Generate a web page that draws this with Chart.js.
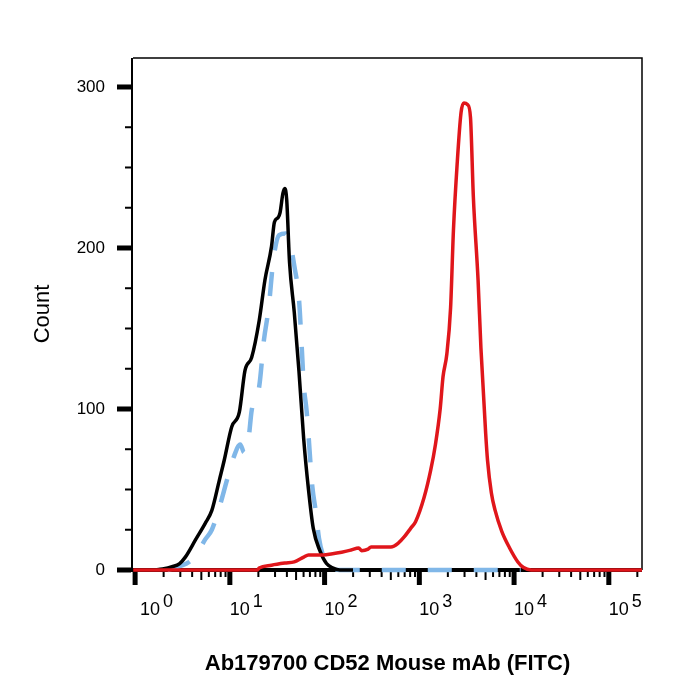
<!DOCTYPE html>
<html>
<head>
<meta charset="utf-8">
<script src="https://cdn.jsdelivr.net/npm/chart.js@4.4.0/dist/chart.umd.min.js"></script>
<style>
  html, body { margin: 0; padding: 0; background: #fff; }
</style>
</head>
<body>
<canvas id="histograma" width="700" height="700"></canvas>
<script>
// intensidade em log10 (posicao no eixo) e contagem
const redLogX = [-0.02, 1.29, 1.31, 1.44, 1.58, 1.68, 1.78, 1.83, 1.94, 2.07, 2.18, 2.28, 2.36, 2.39, 2.46, 2.49,
  2.70, 2.78, 2.84, 2.91, 2.96, 3.05, 3.12, 3.17, 3.22, 3.25, 3.29, 3.33, 3.36, 3.40, 3.44, 3.47, 3.51, 3.54,
  3.57, 3.62, 3.65, 3.70, 3.72, 3.76, 3.80, 3.87, 3.95, 4.04, 4.10, 4.18, 5.35];
const redCount = [0, 0, 1.2, 3, 4.3, 5, 8, 9.3, 9.3, 10, 11, 12.4, 13.7, 12, 13, 14.3,
  14.3, 16.8, 20.5, 26, 30, 45, 62, 78, 100, 120, 134, 163, 211, 253, 284, 290, 289, 281,
  232, 180, 138, 85, 68, 48, 37, 24, 14, 5, 1.5, 0, 0];

const blackLogX = [0.20, 0.29, 0.39, 0.47, 0.53, 0.64, 0.74, 0.81, 0.89, 0.94, 1.02, 1.10, 1.16, 1.23, 1.31, 1.37,
  1.44, 1.47, 1.51, 1.53, 1.56, 1.58, 1.60, 1.63, 1.68, 1.73, 1.78, 1.83, 1.88, 1.95, 2.02, 2.09, 2.16, 2.30];
const blackCount = [0, 0.6, 2, 4, 8, 19, 29, 37, 56, 68, 89, 98, 124, 132, 155, 180,
  201, 216, 219, 222, 234, 237, 230, 191, 160, 123, 81, 50, 26, 12, 4, 1.2, 0, 0];

const blueLogX = [0.34, 0.48, 0.57, 0.64, 0.74, 0.81, 0.89, 0.97, 1.04, 1.11, 1.15, 1.20, 1.23, 1.31, 1.36, 1.41,
  1.46, 1.52, 1.59, 1.65, 1.68, 1.73, 1.76, 1.78, 1.81, 1.83, 1.85, 1.87, 1.91, 1.94, 1.99, 2.04, 2.10, 2.16, 4.07];
const blueCount = [0, 2.5, 5, 9, 19, 25, 39, 56, 70, 78, 73, 83, 99, 114, 143, 163,
  193, 208, 209, 199, 189, 168, 137, 115, 99, 84, 67, 52, 35, 20, 8, 3, 0.6, 0, 0];

const yTicks = [0, 100, 200, 300];
const decadas = [0, 1, 2, 3, 4, 5];

const fonte = '"Liberation Sans", Arial, sans-serif';

function pontos(logX, contagem) {
  return logX.map((v, i) => ({ x: 10 ** v, y: contagem[i] }));
}

// eixos no estilo citometria: caixa, ticks grossos e rotulos 10^n
const eixosPlugin = {
  id: 'eixosCitometria',
  beforeDatasetsDraw(chart) {
    const { ctx, chartArea: a, scales: { x, y } } = chart;
    ctx.save();
    ctx.fillStyle = '#000';
    ctx.strokeStyle = '#000';

    ctx.lineWidth = 1.5;
    ctx.beginPath();
    ctx.moveTo(a.left, a.top);
    ctx.lineTo(a.right, a.top);
    ctx.lineTo(a.right, a.bottom);
    ctx.stroke();

    ctx.lineWidth = 2;
    ctx.beginPath();
    ctx.moveTo(a.left - 1, a.top);
    ctx.lineTo(a.left - 1, a.bottom + 2);
    ctx.stroke();

    ctx.fillRect(a.left - 15, a.bottom - 2, a.right - a.left + 15, 4);

    decadas.forEach(n => {
      for (let k = 1; k <= 9; k++) {
        const v = k * 10 ** n;
        if (v > x.max) break;
        const px = x.getPixelForValue(v);
        if (k === 1) ctx.fillRect(px - 2.5, a.bottom, 5, 15);
        else ctx.fillRect(px - 1, a.bottom, 2, k === 5 ? 10 : 7);
      }
    });

    for (let v = 0; v <= y.max; v += 25) {
      const py = y.getPixelForValue(v);
      if (yTicks.includes(v)) ctx.fillRect(a.left - 16, py - 2.5, 14, 5);
      else ctx.fillRect(a.left - 8, py - 1, 6, 2);
    }

    ctx.font = '18px ' + fonte;
    ctx.textAlign = 'left';
    ctx.textBaseline = 'alphabetic';
    decadas.forEach(n => {
      const px = Math.max(x.getPixelForValue(10 ** n), a.left + 7);
      ctx.fillText('10', px, a.bottom + 45);
      const w = ctx.measureText('10').width;
      ctx.fillText(String(n), px + w + 3, a.bottom + 37);
    });

    ctx.restore();
  }
};

const graficoHist = document.getElementById('histograma');

let findGraficoHist = new Chart(graficoHist, {
  type: 'line',
  data: {
    datasets: [
      {
        label: 'CD52 (FITC)',
        data: pontos(redLogX, redCount),
        borderColor: '#e0161b',
        borderWidth: 3.5,
        clip: false,
      },
      {
        label: 'Controle',
        data: pontos(blackLogX, blackCount),
        borderColor: '#000000',
        borderWidth: 3.5,
        clip: false,
      },
      {
        label: 'Isotipo',
        data: pontos(blueLogX, blueCount),
        borderColor: '#80b7e8',
        borderWidth: 4.5,
        borderDash: [24, 22],
        clip: false,
      }
    ]
  },
  options: {
    responsive: false,
    animation: false,
    layout: {
      padding: { left: 26, right: 58, top: 58, bottom: 19 }
    },
    elements: {
      point: { radius: 0 },
      line: { cubicInterpolationMode: 'monotone', fill: false }
    },
    plugins: {
      legend: { display: false },
      tooltip: { enabled: false }
    },
    scales: {
      x: {
        type: 'logarithmic',
        min: 0.95,
        max: 2.24e5,
        grid: { display: false, drawTicks: false },
        border: { display: false },
        ticks: { display: false },
        title: {
          display: true,
          text: 'Ab179700 CD52 Mouse mAb (FITC)',
          color: '#000',
          font: { family: fonte, size: 22, weight: 'bold' },
          padding: { top: 4, bottom: 4 }
        },
        afterFit: function (escala) {
          escala.height = 111;
        }
      },
      y: {
        type: 'linear',
        min: 0,
        max: 318,
        grid: { display: false, drawTicks: false },
        border: { display: false },
        ticks: {
          stepSize: 100,
          includeBounds: false,
          padding: 28,
          color: '#000',
          font: { family: fonte, size: 17 }
        },
        title: {
          display: true,
          text: 'Count',
          color: '#000',
          font: { family: fonte, size: 22 },
          padding: { top: 4, bottom: 4 }
        },
        afterFit: function (escala) {
          escala.width = 107;
        }
      }
    }
  },
  plugins: [eixosPlugin]
});
</script>
</body>
</html>
